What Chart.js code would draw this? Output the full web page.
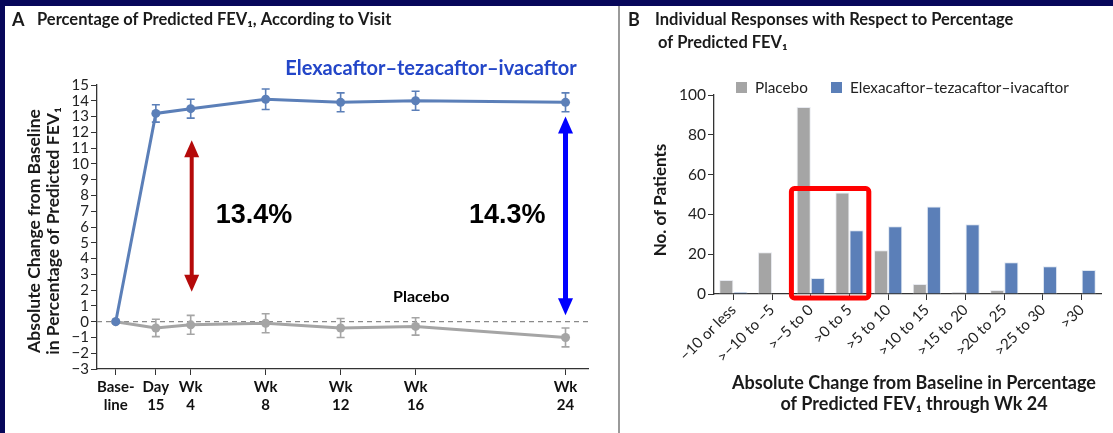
<!DOCTYPE html>
<html>
<head>
<meta charset="utf-8">
<script src="https://cdn.jsdelivr.net/npm/chart.js@4.4.1/dist/chart.umd.min.js"></script>
<style>
  html, body { margin: 0; padding: 0; width: 1113px; height: 433px; overflow: hidden; background: #07075a; }
  #sheet { position: absolute; left: 5px; top: 6px; width: 1108px; height: 427px; background: #fff; }
  #divider { position: absolute; left: 613px; top: 0; width: 2px; height: 427px; background: #9a9a9a; }
  #chartA { position: absolute; left: 0; top: 0; }
  #chartB { position: absolute; left: 616px; top: 0; }
</style>
</head>
<body>
<div id="sheet">
  <canvas id="chartA" width="613" height="427"></canvas>
  <div id="divider"></div>
  <canvas id="chartB" width="492" height="427"></canvas>
</div>
<script>
// panel A: change in ppFEV1 by visit (x in weeks)
const visitWeeks = [0, 2.14, 4, 8, 12, 16, 24];
const visitLabels = [['Base-', 'line'], ['Day', '15'], ['Wk', '4'], ['Wk', '8'], ['Wk', '12'], ['Wk', '16'], ['Wk', '24']];
const etiChange = [0, 13.2, 13.5, 14.1, 13.9, 14.0, 13.9];
const etiErr = [0, 0.55, 0.6, 0.65, 0.6, 0.6, 0.6];
const placeboChange = [0, -0.4, -0.2, -0.1, -0.4, -0.3, -1.0];
const placeboErr = [0, 0.55, 0.6, 0.6, 0.6, 0.55, 0.6];

// panel B: individual responses
const bins = ['\u221210 or less', '>\u221210 to \u22125', '>\u22125 to 0', '>0 to 5', '>5 to 10',
              '>10 to 15', '>15 to 20', '>20 to 25', '>25 to 30', '>30'];
const placeboCounts = [7, 21, 94, 51, 22, 5, 1, 2, 0, 0];
const etiCounts = [1, 0, 8, 32, 34, 44, 35, 16, 14, 12];

const FONT = 'Lato, "Open Sans", "DejaVu Sans", sans-serif';
const BLUE = '#5b7fb8';
const GREY = '#a5a5a5';
Chart.defaults.font.family = FONT;
Chart.defaults.devicePixelRatio = 1;

const minus = v => (v < 0 ? '\u2212' + Math.abs(v) : String(v));

function doubleArrow(ctx, x, yTop, yBot, color, shaft, headW, headH) {
  ctx.save();
  ctx.fillStyle = color;
  ctx.fillRect(x - shaft / 2, yTop + headH - 1, shaft, yBot - yTop - 2 * headH + 2);
  ctx.beginPath();
  ctx.moveTo(x, yTop); ctx.lineTo(x + headW / 2, yTop + headH); ctx.lineTo(x - headW / 2, yTop + headH);
  ctx.closePath(); ctx.fill();
  ctx.beginPath();
  ctx.moveTo(x, yBot); ctx.lineTo(x + headW / 2, yBot - headH); ctx.lineTo(x - headW / 2, yBot - headH);
  ctx.closePath(); ctx.fill();
  ctx.restore();
}

function text(ctx, str, x, y, font, color, align) {
  ctx.font = font;
  ctx.fillStyle = color || '#1a1a1a';
  ctx.textAlign = align || 'left';
  ctx.textBaseline = 'middle';
  ctx.fillText(str, x, y);
}

const panelA = {
  id: 'panelA',
  beforeDatasetsDraw(chart) {
    const { ctx, chartArea, scales: { x, y } } = chart;
    ctx.save();
    // dashed zero line
    const y0 = y.getPixelForValue(0);
    ctx.strokeStyle = '#8a8a8a';
    ctx.lineWidth = 1.2;
    ctx.setLineDash([5, 4]);
    ctx.beginPath(); ctx.moveTo(chartArea.left, y0); ctx.lineTo(chartArea.right, y0); ctx.stroke();
    ctx.setLineDash([]);
    // error bars
    chart.data.datasets.forEach(ds => {
      ctx.strokeStyle = ds.borderColor;
      ctx.lineWidth = 1.6;
      ds.data.forEach((p, i) => {
        const e = ds.errors[i];
        if (!e) return;
        const px = x.getPixelForValue(p.x);
        const t = y.getPixelForValue(p.y + e), b = y.getPixelForValue(p.y - e);
        ctx.beginPath();
        ctx.moveTo(px, t); ctx.lineTo(px, b);
        ctx.moveTo(px - 4, t); ctx.lineTo(px + 4, t);
        ctx.moveTo(px - 4, b); ctx.lineTo(px + 4, b);
        ctx.stroke();
      });
    });
    ctx.restore();
  },
  afterDraw(chart) {
    const { ctx, scales: { x, y } } = chart;
    ctx.save();
    text(ctx, 'A', 7, 14, 'bold 18px ' + FONT);
    text(ctx, 'Percentage of Predicted FEV\u2081, According to Visit', 32, 14, 'bold 16.5px ' + FONT);

    ctx.save();
    ctx.translate(29, 225);
    ctx.rotate(-Math.PI / 2);
    text(ctx, 'Absolute Change from Baseline', 0, 0, 'bold 17.5px ' + FONT, '#1a1a1a', 'center');
    text(ctx, 'in Percentage of Predicted FEV\u2081', 0, 19, 'bold 17.5px ' + FONT, '#1a1a1a', 'center');
    ctx.restore();

    text(ctx, 'Elexacaftor\u2013tezacaftor\u2013ivacaftor', 426, 63, 'bold 20px ' + FONT, '#2346c8', 'center');

    const xw4 = x.getPixelForValue(4), xw24 = x.getPixelForValue(24);
    doubleArrow(ctx, xw4 + 1, y.getPixelForValue(11.5), y.getPixelForValue(1.9), '#b50a0a', 4, 15, 17);
    doubleArrow(ctx, xw24, y.getPixelForValue(13.0), y.getPixelForValue(0.4), '#0000ff', 5, 15, 17);

    const yPct = y.getPixelForValue(6.7);
    text(ctx, '13.4%', xw4 + 25, yPct, 'bold 27px "Liberation Sans", Arial, sans-serif', '#000');
    text(ctx, '14.3%', xw24 - 20, yPct, 'bold 27px "Liberation Sans", Arial, sans-serif', '#000', 'right');
    text(ctx, 'Placebo', x.getPixelForValue(16.3), y.getPixelForValue(1.6), 'bold 16px ' + FONT, '#000', 'center');
    ctx.restore();
  }
};

new Chart(document.getElementById('chartA'), {
  type: 'line',
  data: {
    datasets: [
      {
        label: 'Elexacaftor\u2013tezacaftor\u2013ivacaftor',
        data: visitWeeks.map((w, i) => ({ x: w, y: etiChange[i] })),
        errors: etiErr,
        borderColor: BLUE, backgroundColor: BLUE,
        borderWidth: 3, pointRadius: 4.5, pointBorderWidth: 0, tension: 0
      },
      {
        label: 'Placebo',
        data: visitWeeks.map((w, i) => ({ x: w, y: placeboChange[i] })),
        errors: placeboErr,
        borderColor: GREY, backgroundColor: GREY,
        borderWidth: 3, pointRadius: 4.5, pointBorderWidth: 0, tension: 0
      }
    ]
  },
  options: {
    responsive: false,
    animation: false,
    layout: { padding: { left: 52, top: 79, right: 30, bottom: 12 } },
    plugins: { legend: { display: false }, tooltip: { enabled: false } },
    scales: {
      x: {
        type: 'linear', min: -1, max: 25.2,
        afterBuildTicks: s => { s.ticks = visitWeeks.map(v => ({ value: v })); },
        afterFit: s => { s.height = 52; },
        ticks: {
          callback: (v, i) => visitLabels[i],
          autoSkip: false, maxRotation: 0, padding: 3,
          font: { size: 15, weight: 'bold' }, color: '#111'
        },
        grid: { drawOnChartArea: false, tickLength: 6, color: '#333' },
        border: { color: '#333', width: 1.3 }
      },
      y: {
        min: -3, max: 15,
        afterFit: s => { s.width = 40; },
        ticks: { stepSize: 1, autoSkip: false, callback: v => minus(v), padding: 2, font: { size: 15 }, color: '#222' },
        grid: { drawOnChartArea: false, tickLength: 6, color: '#333' },
        border: { color: '#333', width: 1.3 }
      }
    }
  },
  plugins: [panelA]
});

const panelB = {
  id: 'panelB',
  afterDraw(chart) {
    const { ctx, scales: { x, y } } = chart;
    ctx.save();
    text(ctx, 'B', 7, 14, 'bold 18px ' + FONT);
    text(ctx, 'Individual Responses with Respect to Percentage', 34, 14, 'bold 16.5px ' + FONT);
    text(ctx, 'of Predicted FEV\u2081', 37, 37, 'bold 16.5px ' + FONT);

    // legend
    ctx.fillStyle = GREY; ctx.fillRect(115, 76, 11, 11);
    text(ctx, 'Placebo', 134, 82, '15.3px ' + FONT, '#222');
    ctx.fillStyle = BLUE; ctx.fillRect(210, 76, 11, 11);
    text(ctx, 'Elexacaftor\u2013tezacaftor\u2013ivacaftor', 229, 82, '15.3px ' + FONT, '#222');

    ctx.save();
    ctx.translate(40, 194);
    ctx.rotate(-Math.PI / 2);
    text(ctx, 'No. of Patients', 0, 0, 'bold 17px ' + FONT, '#1a1a1a', 'center');
    ctx.restore();

    text(ctx, 'Absolute Change from Baseline in Percentage', 293, 377, 'bold 18px ' + FONT, '#1a1a1a', 'center');
    text(ctx, 'of Predicted FEV\u2081 through Wk 24', 293, 398, 'bold 18px ' + FONT, '#1a1a1a', 'center');

    // highlight box round the two bins either side of zero
    const half = (x.getPixelForValue(1) - x.getPixelForValue(0)) / 2;
    const l = x.getPixelForValue(2) - half, r = x.getPixelForValue(3) + half;
    const t = y.getPixelForValue(53), b = y.getPixelForValue(-2);
    ctx.strokeStyle = '#ff0000';
    ctx.lineWidth = 5;
    ctx.lineJoin = 'round';
    ctx.beginPath();
    ctx.roundRect(l, t, r - l, b - t, 3);
    ctx.stroke();
    ctx.restore();
  }
};

new Chart(document.getElementById('chartB'), {
  type: 'bar',
  data: {
    labels: bins,
    datasets: [
      { label: 'Placebo', data: placeboCounts, backgroundColor: GREY,
        borderColor: 'rgba(230,232,238,0.9)', borderWidth: 1,
        categoryPercentage: 0.73, barPercentage: 1 },
      { label: 'Elexacaftor\u2013tezacaftor\u2013ivacaftor', data: etiCounts, backgroundColor: BLUE,
        borderColor: 'rgba(220,228,240,0.9)', borderWidth: 1,
        categoryPercentage: 0.73, barPercentage: 1 }
    ]
  },
  options: {
    responsive: false,
    animation: false,
    layout: { padding: { left: 57, top: 89, right: 12, bottom: 59 } },
    plugins: { legend: { display: false }, tooltip: { enabled: false } },
    scales: {
      x: {
        afterFit: s => { s.height = 80; },
        ticks: { autoSkip: false, minRotation: 45, maxRotation: 45, padding: 1, font: { size: 15 }, color: '#222' },
        grid: { offset: false, drawOnChartArea: false, tickLength: 6, color: '#333' },
        border: { color: '#333', width: 1.3 }
      },
      y: {
        min: 0, max: 100,
        afterFit: s => { s.width = 36; },
        ticks: { stepSize: 10, callback: v => (v % 20 === 0 ? v : ''), padding: 2, font: { size: 15.5 }, color: '#222' },
        grid: { drawOnChartArea: false, tickLength: 6, color: '#333' },
        border: { color: '#333', width: 1.3 }
      }
    }
  },
  plugins: [panelB]
});
</script>
</body>
</html>
